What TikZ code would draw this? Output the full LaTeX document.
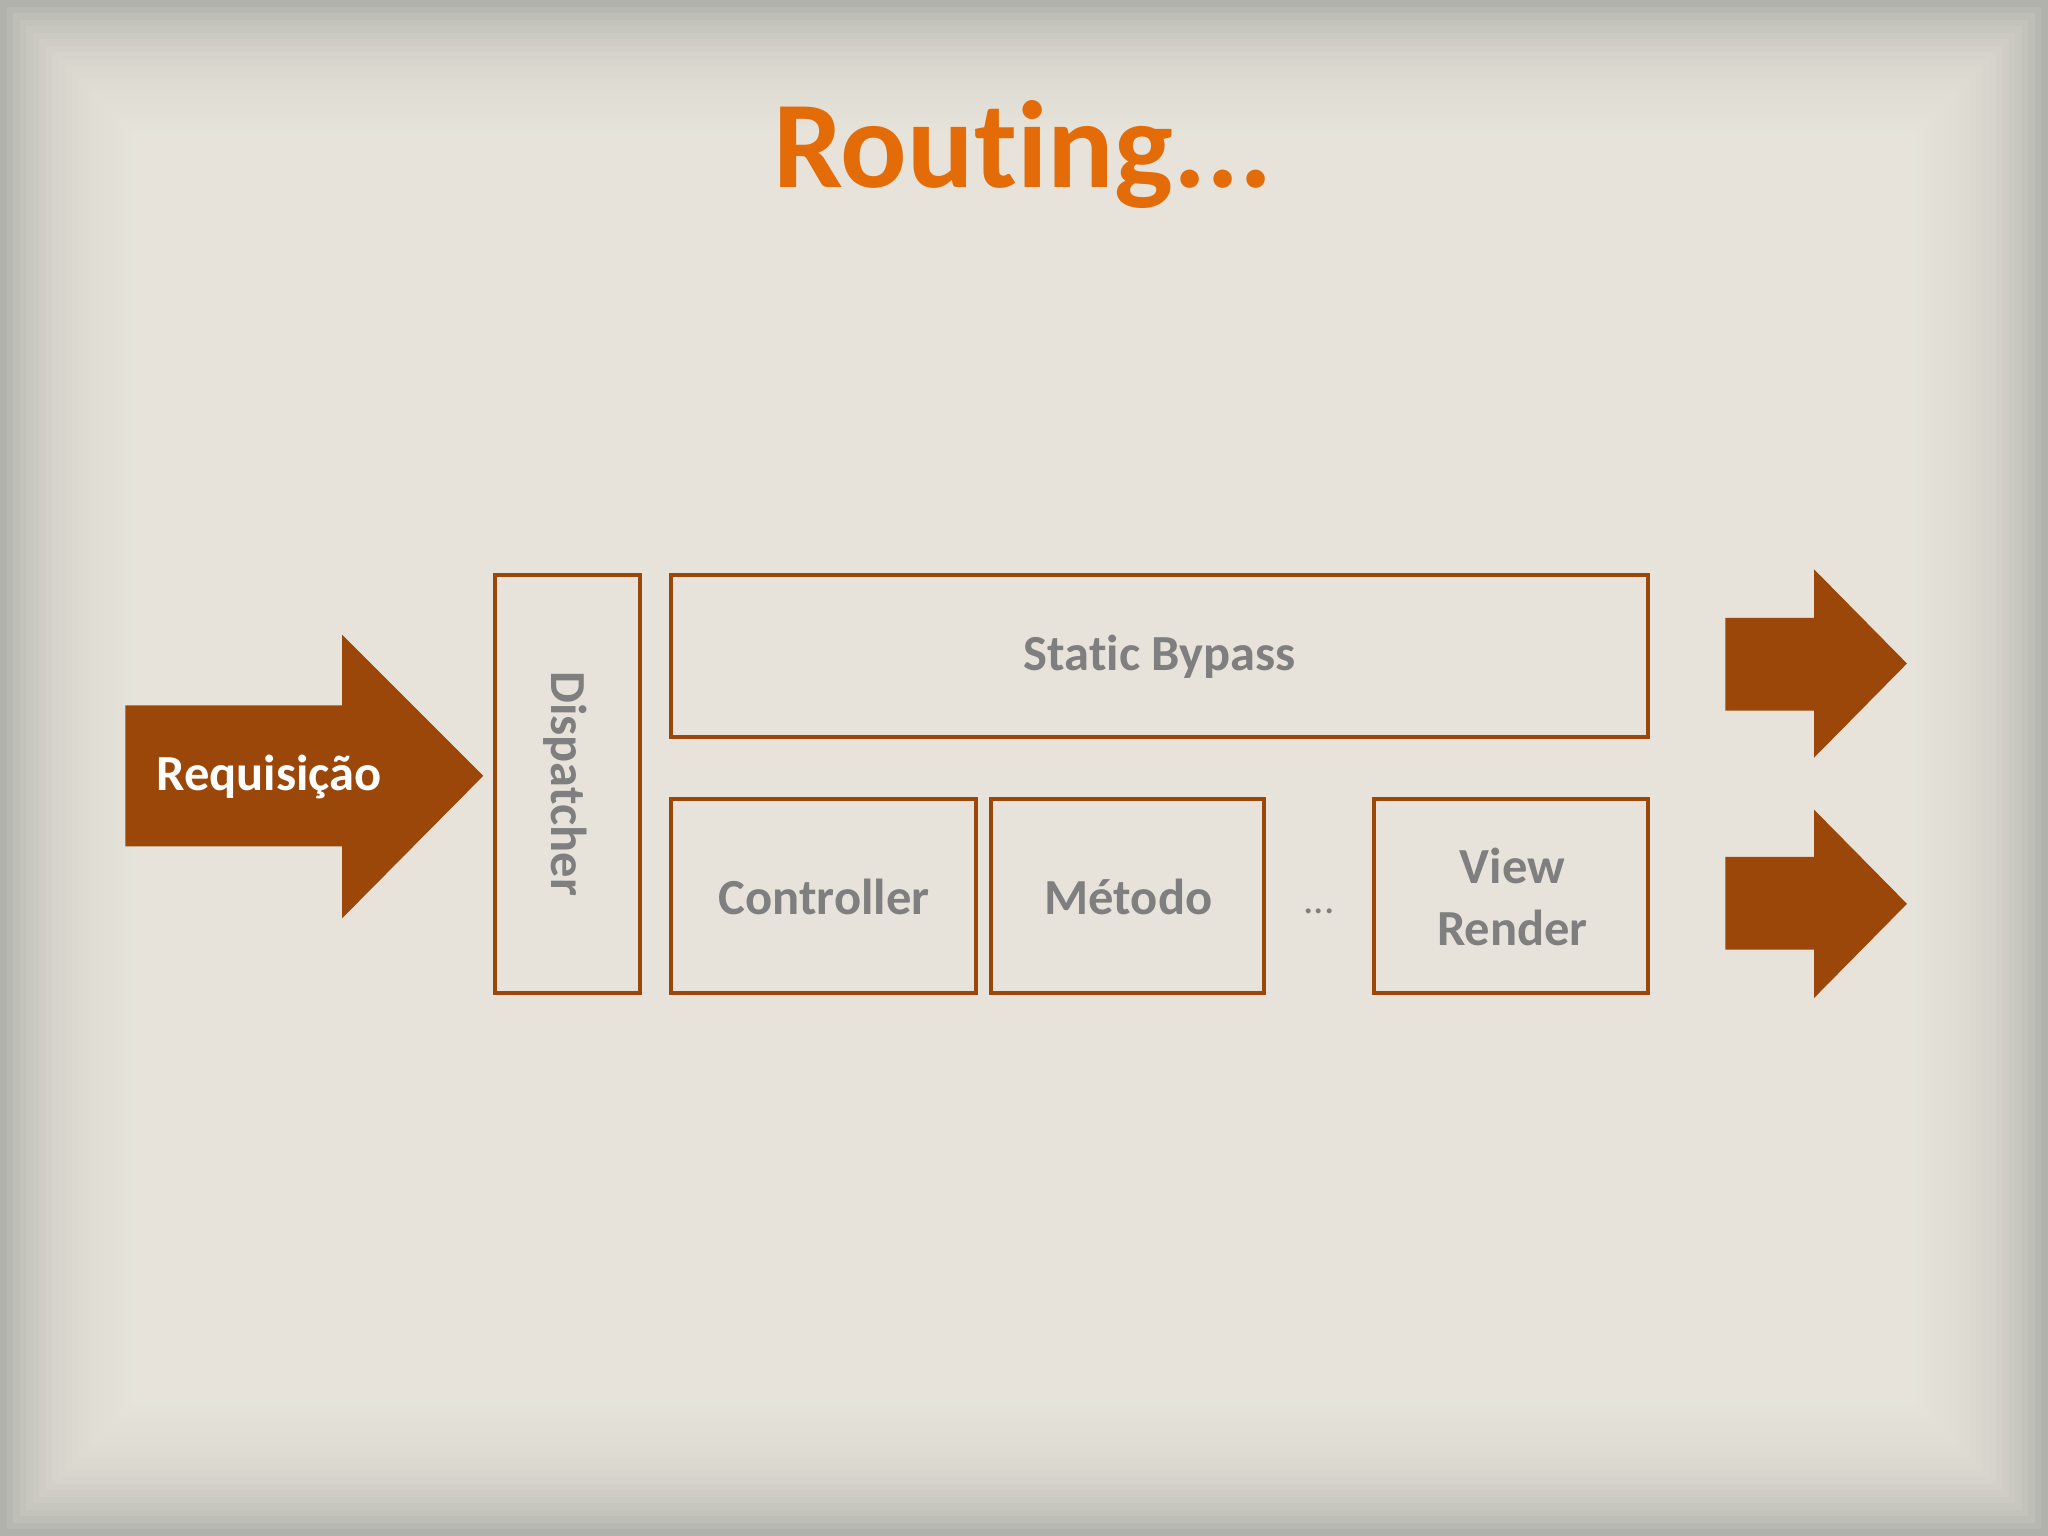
\documentclass[tikz,border=0pt]{standalone}
\usepackage{fontspec}
\setmainfont{Carlito}[Ligatures=NoCommon]
\definecolor{bg}{HTML}{F0ECE3}
\definecolor{edge}{HTML}{ABABA7}
\definecolor{brn}{HTML}{9A4709}
\definecolor{org}{HTML}{E36C09}
\definecolor{txt}{HTML}{7F7F7F}
\begin{document}
\begin{tikzpicture}[x=0.01cm,y=-0.01cm,
  box/.style={draw=brn,line width=0.03cm},
  lbl/.style={text=txt,font=\fontsize{11pt}{13.5pt}\selectfont\bfseries,align=center},
  arr/.style={fill=brn}]
\useasboundingbox (0,0) rectangle (1568,1176);
\fill[edge] (0,0) rectangle (1568,1176);
\foreach \i in {0,...,44}{
  \fill[bg,opacity=0.11] (\i*5,\i*5) rectangle (1568-\i*5,1176-\i*5);
}
\node[text=org,font=\fontsize{27pt}{30pt}\selectfont\bfseries] (title) at (783,118) {Routing...};
\fill[arr] (96,540) -- (262,540) -- (262,486) -- (370,594) -- (262,703) -- (262,648) -- (96,648) -- cycle;
\node[text=white,font=\fontsize{11pt}{13.5pt}\selectfont\bfseries] (req) at (206,595) {Requisição};
\draw[box] (379,440) rectangle (490,760);
\node[lbl,rotate=-90] (disp) at (433,600) {Dispatcher};
\draw[box] (514,440) rectangle (1262,564);
\node[lbl] (sb) at (888,503) {Static Bypass};
\draw[box] (514,612) rectangle (747,760);
\node[lbl] (ctl) at (631,687) {Controller};
\draw[box] (759,612) rectangle (968,760);
\node[lbl] (met) at (864,687) {Método};
\node[text=txt,font=\fontsize{9pt}{10pt}\selectfont] (dots) at (1010,698) {...};
\draw[box] (1052,612) rectangle (1262,760);
\node[lbl] (vr) at (1158,687) {View\\Render};
\fill[arr] (1321,473) -- (1389,473) -- (1389,436) -- (1460,508) -- (1389,580) -- (1389,544) -- (1321,544) -- cycle;
\fill[arr] (1321,656) -- (1389,656) -- (1389,620) -- (1460,692) -- (1389,764) -- (1389,727) -- (1321,727) -- cycle;
\end{tikzpicture}
\end{document}
